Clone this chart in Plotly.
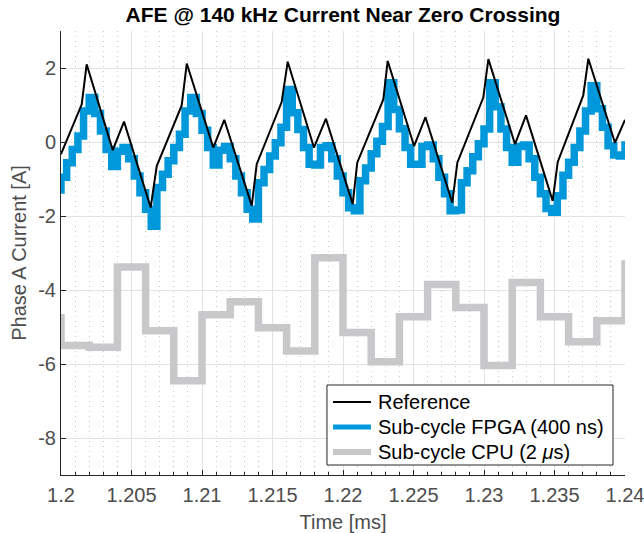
import plotly.graph_objects as go

# Reference phase current: vertices of the piecewise-linear waveform [ms, A]
ref_t = [1.2, 1.20147, 1.20182, 1.20367, 1.20447, 1.20636, 1.20679, 1.20856, 1.20892,
         1.21080, 1.21158, 1.21353, 1.21388, 1.21565, 1.21608, 1.21794, 1.21879, 1.22069,
         1.22101, 1.22286, 1.22317, 1.22504, 1.22585, 1.22775, 1.22811, 1.22995, 1.23031,
         1.23220, 1.23298, 1.23487, 1.23523, 1.23704, 1.23740, 1.23929, 1.24]
ref_i = [-0.33, 1.02, 2.10, -0.22, 0.55, -1.77, -0.65, 0.99, 2.12,
         -0.15, 0.60, -1.72, -0.60, 1.08, 2.17, -0.15, 0.63, -1.68,
         -0.56, 1.15, 2.19, -0.11, 0.67, -1.64, -0.56, 1.20, 2.24,
         -0.06, 0.72, -1.59, -0.54, 1.26, 2.25, -0.02, 0.60]

# FPGA sub-cycle model output, held for 400 ns per sample (first sample is the one before 1.2 ms)
fpga_t0 = 1.1996
fpga_ts = 0.0004
fpga_i = [-1.30,
          -0.95, -0.56, -0.20, 0.16, 0.84, 1.20, 0.77, 0.30, -0.20, -0.66,
          -0.25, -0.15, -0.45, -0.92, -1.37, -1.82, -2.28, -1.23, -0.87, -0.51,
          -0.15, 0.21, 0.84, 1.20, 0.77, 0.32, -0.15, -0.62, -0.22, -0.12,
          -0.45, -0.92, -1.37, -1.82, -2.08, -1.10, -0.74, -0.38, -0.02, 0.40,
          1.42, 0.79, 0.34, -0.15, -0.60, -0.62, -0.15, -0.10, -0.45, -0.92,
          -1.37, -1.78, -1.86, -1.05, -0.70, -0.32, 0.02, 0.42, 1.60, 0.88,
          0.36, -0.15, -0.60, -0.60, -0.12, -0.08, -0.45, -0.95, -1.40, -1.86,
          -1.84, -1.10, -0.78, -0.40, -0.05, 0.35, 1.60, 0.95, 0.35, -0.15,
          -0.55, -0.12, -0.08, -0.45, -0.95, -1.40, -1.80, -1.90, -1.45, -0.90,
          -0.55, -0.15, 0.30, 0.84, 1.52, 0.90, 0.40, -0.10, -0.35, -0.38,
          -0.08, -0.08]

# CPU sub-cycle model output, held for 2 us per sample
cpu_t0 = 1.198
cpu_ts = 0.002
cpu_i = [-4.75, -5.50, -5.55, -3.38, -5.10, -6.45, -4.67, -4.32, -5.02, -5.65, -3.13,
         -5.15, -5.94, -4.72, -3.85, -4.47, -6.04, -3.80, -4.72, -5.40, -4.83, -3.30, -3.30]

x_ticks = [1.2, 1.205, 1.21, 1.215, 1.22, 1.225, 1.23, 1.235, 1.24]
x_tick_text = ["1.2", "1.205", "1.21", "1.215", "1.22", "1.225", "1.23", "1.235", "1.24"]
y_ticks = [-8, -6, -4, -2, 0, 2]
y_tick_text = ["-8", "-6", "-4", "-2", "0", "2"]

series_names = ["Reference", "Sub-cycle FPGA (400 ns)", "Sub-cycle CPU (2 <i>μ</i>s)"]
series_colors = ["#000000", "#0098da", "#c8c8ca"]
series_widths = [2, 7.5, 7.5]
legend_widths = [2, 5, 6]

fpga_t = [fpga_t0 + fpga_ts * k for k in range(len(fpga_i))]
cpu_t = [cpu_t0 + cpu_ts * k for k in range(len(cpu_i))]

FONT = "Liberation Sans, Arial, Helvetica, sans-serif"
AX = "#262626"

fig = go.Figure()
# drawn back to front: CPU, FPGA, then the reference on top
fig.add_trace(go.Scatter(x=cpu_t, y=cpu_i, mode="lines", line_shape="hv",
                         line=dict(color=series_colors[2], width=series_widths[2]),
                         name=series_names[2], showlegend=False))
fig.add_trace(go.Scatter(x=fpga_t, y=fpga_i, mode="lines", line_shape="hv",
                         line=dict(color=series_colors[1], width=series_widths[1]),
                         name=series_names[1], showlegend=False))
fig.add_trace(go.Scatter(x=ref_t, y=ref_i, mode="lines",
                         line=dict(color=series_colors[0], width=series_widths[0]),
                         name=series_names[0], showlegend=False))

# legend box in the lower right corner of the axes (paper coordinates)
box = dict(x0=0.4716, x1=0.9787, y0=0.0225, y1=0.2027)
row_y = [0.1644, 0.1081, 0.0518]
sample_x = (0.4823, 0.5496)
label_x = 0.5585

shapes = [dict(type="rect", xref="paper", yref="paper", layer="above",
               fillcolor="white", line=dict(color=AX, width=1), **box)]
annotations = []
for name, color, lw, yy in zip(series_names, series_colors, legend_widths, row_y):
    shapes.append(dict(type="line", xref="paper", yref="paper", layer="above",
                       x0=sample_x[0], x1=sample_x[1], y0=yy, y1=yy,
                       line=dict(color=color, width=lw)))
    annotations.append(dict(text=name, xref="paper", yref="paper", x=label_x, y=yy,
                            xanchor="left", yanchor="middle", showarrow=False,
                            font=dict(family=FONT, size=20, color="#000000")))

fig.update_layout(
    width=644, height=533,
    margin=dict(l=61, r=19, t=31, b=58),
    paper_bgcolor="white", plot_bgcolor="white",
    font=dict(family=FONT, size=20, color="#4d4d4d"),
    title=dict(text="<b>AFE @ 140 kHz Current Near Zero Crossing</b>",
               x=0.5, xref="paper", xanchor="center",
               y=1 - 15 / 533, yref="container", yanchor="middle",
               font=dict(family=FONT, size=21, color="#000000")),
    showlegend=False,
    shapes=shapes,
    annotations=annotations,
)

fig.update_xaxes(
    range=[1.2, 1.2400001], tickmode="array", tickvals=x_ticks, ticktext=x_tick_text,
    showline=True, linecolor=AX, linewidth=1, mirror=False, automargin=False,
    ticks="inside", ticklen=5, tickcolor=AX, ticklabelstandoff=2,
    ticklabeloverflow="allow",
    showgrid=True, gridcolor="#e2e2e2", gridwidth=1, zeroline=False,
    minor=dict(dtick=0.001, tick0=1.2, showgrid=True, gridcolor="#c6c6c6",
               griddash="1px,4px", ticks="inside", ticklen=3, tickcolor=AX),
    title=dict(text="Time [ms]", standoff=10, font=dict(size=20, color="#4d4d4d")),
)
fig.update_yaxes(
    range=[-9, 3], tickmode="array", tickvals=y_ticks, ticktext=y_tick_text,
    showline=True, linecolor=AX, linewidth=1, mirror=False, automargin=False,
    ticks="inside", ticklen=5, tickcolor=AX,
    showgrid=True, gridcolor="#e2e2e2", gridwidth=1, zeroline=False,
    title=dict(text="Phase A Current [A]", standoff=6, font=dict(size=20, color="#4d4d4d")),
)

fig.write_html("out.html")
